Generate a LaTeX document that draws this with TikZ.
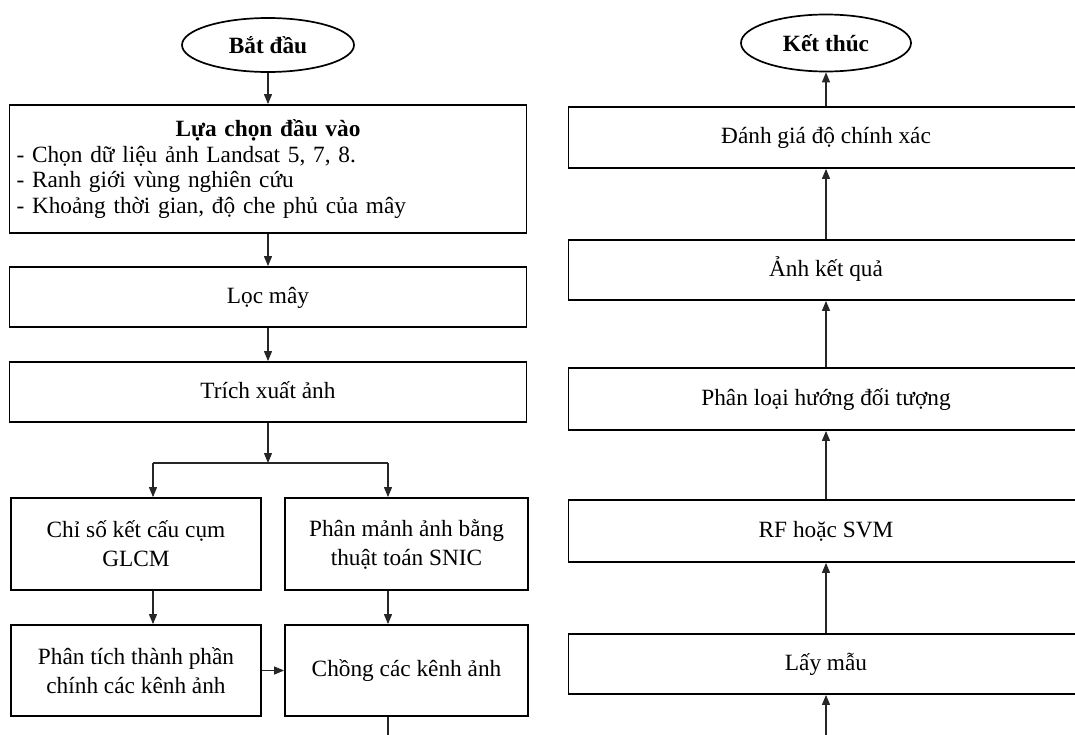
\documentclass[tikz,border=0pt]{standalone}
\usepackage{fontspec}
\setmainfont{Liberation Serif}
\usetikzlibrary{shapes.geometric,arrows.meta,positioning}

\begin{document}
\begin{tikzpicture}[x=1pt,y=-1pt,
  box/.style={draw, line width=1.8pt, inner sep=0pt, align=center, font=\fontsize{23.3}{25.5}\selectfont},
  one/.style={text height=17pt, text depth=5pt},
  two/.style={font=\fontsize{23.3}{29}\selectfont},
  oval/.style={draw, ellipse, line width=1.7pt, inner sep=0pt, font=\fontsize{23.3}{25.5}\selectfont\bfseries},
  arr/.style={draw=black!85, line width=1.1pt, -{Triangle[length=10pt,width=8pt]}},
  lin/.style={draw=black!85, line width=1.1pt}]
\useasboundingbox (0,0) rectangle (1075,734);

% left column
\node[oval, minimum width=172pt, minimum height=54pt] (start) at (268,45) {Bắt đầu};
\node[box, minimum width=517pt, minimum height=128pt, text width=503pt, align=left] (input) at (268,169)
  {\noindent\hfill\textbf{Lựa chọn đầu vào}\hfill\null\\- Chọn dữ liệu ảnh Landsat 5, 7, 8.\\- Ranh giới vùng nghiên cứu\\- Khoảng thời gian, độ che phủ của mây};
\node[box, one, minimum width=517pt, minimum height=60pt] (cloud) at (268,297) {Lọc mây};
\node[box, one, minimum width=517pt, minimum height=60pt] (extract) at (268,392) {Trích xuất ảnh};

\node[box, two, minimum width=250pt, minimum height=92pt] (glcm) at (136,544) {Chỉ số kết cấu cụm\\GLCM};
\node[box, two, minimum width=243pt, minimum height=92pt] (snic) at (406.5,544) {Phân mảnh ảnh bằng\\thuật toán SNIC};
\node[box, two, minimum width=250pt, minimum height=91pt] (pca) at (136,670.5) {Phân tích thành phần\\chính các kênh ảnh};
\node[box, one, minimum width=243pt, minimum height=91pt] (stack) at (406.5,670.5) {Chồng các kênh ảnh};

\coordinate (fork) at (268,463);
\coordinate (forkL) at (153,463);
\coordinate (forkR) at (388,463);
\coordinate (stackout) at (388,750);

\draw[arr] (start) -- (input);
\draw[arr] (input) -- (cloud);
\draw[arr] (cloud) -- (extract);
\draw[arr] (extract) -- (fork);
\draw[lin] (forkL) -- (forkR);
\draw[arr] (forkL) -- (forkL |- glcm.north);
\draw[arr] (forkR) -- (forkR |- snic.north);
\draw[arr] (forkL |- glcm.south) -- (forkL |- pca.north);
\draw[arr] (forkR |- snic.south) -- (forkR |- stack.north);
\draw[arr] (pca) -- (stack);
\draw[lin] (stackout |- stack.south) -- (stackout);

% right column
\node[oval, minimum width=170pt, minimum height=57pt] (stop) at (826,43) {Kết thúc};
\node[box, one, minimum width=515pt, minimum height=61pt] (eval) at (826,137.5) {Đánh giá độ chính xác};
\node[box, one, minimum width=515pt, minimum height=60pt] (result) at (826,270) {Ảnh kết quả};
\node[box, one, minimum width=515pt, minimum height=62pt] (classify) at (826,399) {Phân loại hướng đối tượng};
\node[box, one, minimum width=515pt, minimum height=62pt] (model) at (826,531) {RF hoặc SVM};
\node[box, one, minimum width=515pt, minimum height=60pt] (sample) at (826,664) {Lấy mẫu};

\coordinate (samplein) at (826,750);

\draw[arr] (samplein) -- (sample);
\draw[arr] (sample) -- (model);
\draw[arr] (model) -- (classify);
\draw[arr] (classify) -- (result);
\draw[arr] (result) -- (eval);
\draw[arr] (eval) -- (stop);

\end{tikzpicture}
\end{document}
